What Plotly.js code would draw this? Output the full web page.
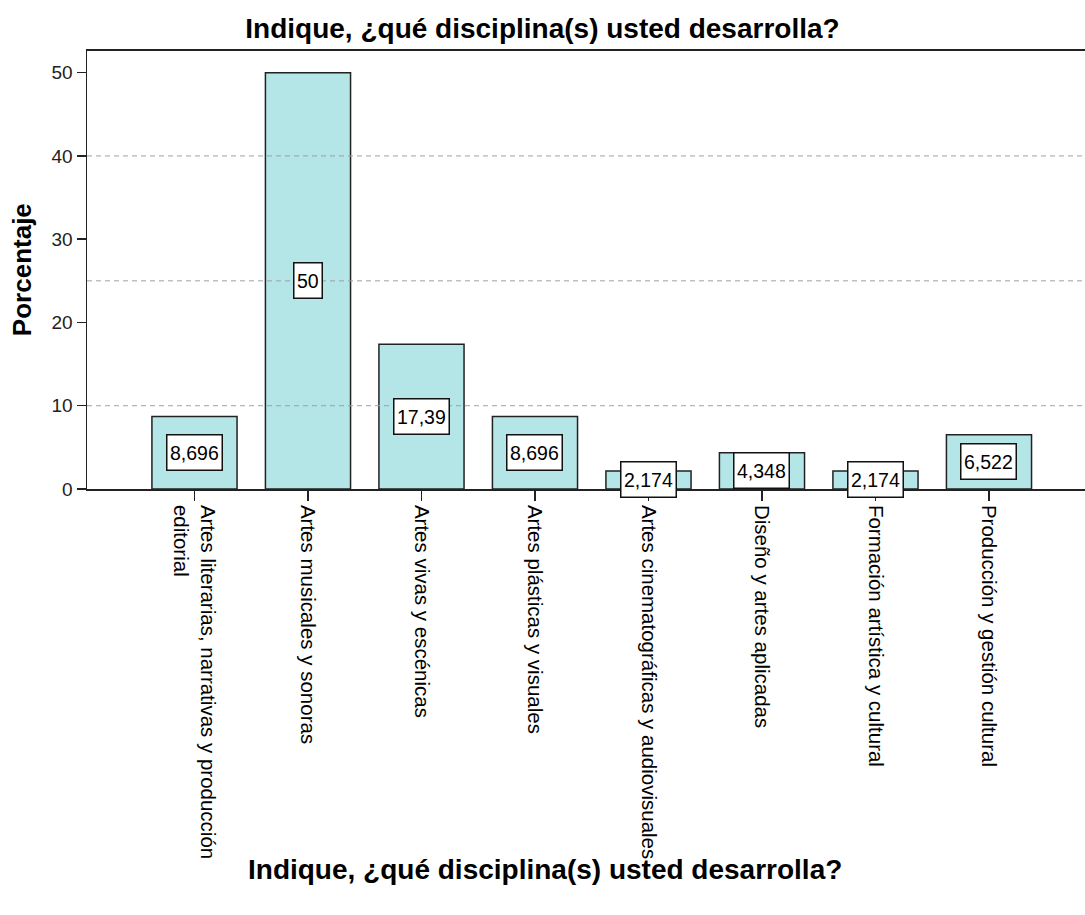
<!DOCTYPE html>
<html>
<head>
<meta charset="utf-8">
<script src="https://cdn.plot.ly/plotly-3.0.1.min.js"></script>
<style>html,body{margin:0;padding:0;background:#fff;}#chart{width:1085px;height:915px;}</style>
</head>
<body>
<div id="chart"></div>
<script>
const categories = [
  "Artes literarias, narrativas y producción<br>editorial",
  "Artes musicales y sonoras",
  "Artes vivas y escénicas",
  "Artes plásticas y visuales",
  "Artes cinematográficas y audiovisuales",
  "Diseño y artes aplicadas",
  "Formación artística y cultural",
  "Producción y gestión cultural"
];
const percentages = [8.696, 50, 17.39, 8.696, 2.174, 4.348, 2.174, 6.522];
const valueLabels = ["8,696", "50", "17,39", "8,696", "2,174", "4,348", "2,174", "6,522"];
const yTicks = [0, 10, 20, 30, 40, 50];
const gridValues = [10, 25, 40];

const FONT = 'Liberation Sans, Arial, sans-serif';
const idx = categories.map((_, i) => i);

const trace = {
  type: 'bar',
  x: idx,
  y: percentages,
  width: 0.75,
  marker: { color: '#b4e5e7', line: { color: '#222', width: 1.5 } },
  hoverinfo: 'none'
};

const annotations = percentages.map((v, i) => ({
  x: i, y: v / 2, xref: 'x', yref: 'y',
  text: valueLabels[i], showarrow: false,
  font: { family: FONT, size: 19.5, color: '#000' },
  height: 29,
  bgcolor: '#fff', bordercolor: '#111', borderwidth: 1.5, borderpad: 2.5
}));

annotations.push({
  xref: 'paper', yref: 'paper', x: 0.459, y: -0.868, yanchor: 'middle',
  text: '<b>Indique, ¿qué disciplina(s) usted desarrolla?</b>', showarrow: false,
  font: { family: FONT, size: 28, color: '#000' }
});

annotations.push({
  xref: 'paper', yref: 'paper', x: -0.065, y: 0.5, xanchor: 'center', yanchor: 'middle',
  textangle: -90,
  text: '<b>Porcentaje</b>', showarrow: false,
  font: { family: FONT, size: 26, color: '#000' }
});

const shapes = gridValues.map(g => ({
  type: 'line', xref: 'paper', yref: 'y', x0: 0, x1: 1, y0: g, y1: g,
  layer: 'above', line: { color: '#a0a0a0', width: 1, dash: '5px,4px' }
}));

const layout = {
  width: 1085, height: 915,
  margin: { l: 87, r: 0, t: 51, b: 426 },
  paper_bgcolor: '#fff', plot_bgcolor: '#fff',
  showlegend: false,
  title: {
    text: '<b>Indique, ¿qué disciplina(s) usted desarrolla?</b>',
    x: 0.5, xref: 'container', y: 0.969, yref: 'container', yanchor: 'middle',
    font: { family: FONT, size: 28, color: '#000' }
  },
  xaxis: {
    range: [-0.947, 7.846],
    tickmode: 'array', tickvals: idx, ticktext: categories,
    tickangle: 90,
    ticks: 'outside', ticklen: 10, tickcolor: '#222', tickwidth: 1.5,
    showline: true, linecolor: '#222', linewidth: 1.8, mirror: true,
    showgrid: false, zeroline: false,
    tickfont: { family: FONT, size: 20.5, color: '#000' },
    automargin: false, fixedrange: true
  },
  yaxis: {
    range: [0, 52.6],
    tickmode: 'array', tickvals: yTicks,
    ticks: 'outside', ticklen: 9, tickcolor: '#222', tickwidth: 1.5,
    showline: true, linecolor: '#222', linewidth: 1.5,
    showgrid: false, zeroline: false,
    tickfont: { family: FONT, size: 19, color: '#222' },
    automargin: false, fixedrange: true
  },
  annotations: annotations,
  shapes: shapes
};

Plotly.newPlot('chart', [trace], layout, { displayModeBar: false, staticPlot: true });
</script>
</body>
</html>
